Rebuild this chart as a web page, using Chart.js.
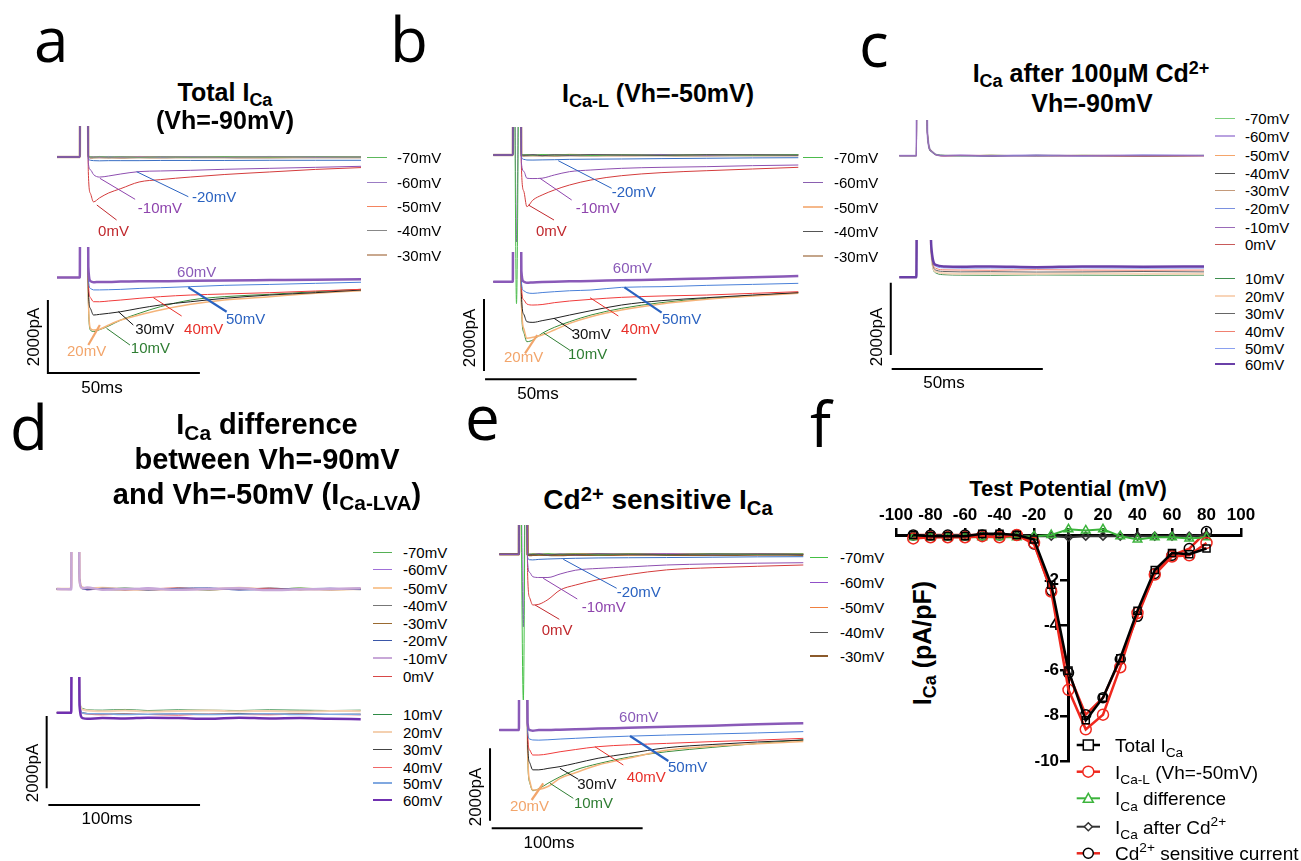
<!DOCTYPE html>
<html>
<head>
<meta charset="utf-8">
<script src="https://cdn.jsdelivr.net/npm/chart.js@4.4.0/dist/chart.umd.min.js"></script>
<style>
body{margin:0;background:#fff;width:1301px;height:861px;position:relative;overflow:hidden;font-family:"Liberation Sans",Arial,sans-serif;color:#000}
canvas{position:absolute}
.t{position:absolute;white-space:nowrap;line-height:1}
sub{font-size:.72em;vertical-align:-.28em;line-height:0}
sup{font-size:.72em;vertical-align:.42em;line-height:0}
</style>
</head>
<body>
<script>
// ---- panel a : total ICa, Vh=-90mV (time in ms, current in pA) ----
const aT = [0, 7.5, 7.7, 9.9, 10.3, 11, 12, 14, 17, 21, 27, 34, 44, 55, 70, 85, 100];
const aTopV = ['-70mV', '-60mV', '-50mV', '-40mV', '-30mV', '-20mV', '-10mV', '0mV'];
const aTopI = [
  [0, 0, 6000, 6000, 60, 10, -10, 15, -5, 10, -15, 5, -10, 10, -5, 10, 0],
  [0, 0, 6000, 6000, 40, 0, 10, -10, 15, -10, 5, -15, 10, -5, 15, -10, 5],
  [0, 0, 6000, 6000, 50, -5, 5, -15, 0, -10, 15, 0, -15, 5, 0, -10, 10],
  [0, 0, 6000, 6000, 30, -10, -5, 5, -20, 5, -5, 10, 0, -10, 10, 5, -5],
  [0, 0, 6000, 6000, 20, -20, -15, -10, -15, -20, -10, -15, -5, -10, -15, -5, -10],
  [0, 0, 6000, 6000, -40, -90, -100, -105, -100, -100, -100, -95, -95, -95, -90, -90, -90],
  [0, 0, 6000, 6000, -150, -350, -480, -550, -520, -465, -400, -383, -365, -337, -310, -283, -255],
  [0, 0, 6000, 6000, -400, -1000, -1230, -1120, -985, -866, -685, -620, -548, -480, -410, -340, -290]
];
const aBotV = ['10mV', '20mV', '30mV', '40mV', '50mV', '60mV'];
const aBotI = [
  [0, 0, 6000, 6000, -600, -1440, -1480, -1430, -1330, -1165, -982, -800, -617, -525, -461, -389, -324],
  [0, 0, 6000, 6000, -500, -1393, -1439, -1420, -1302, -1165, -1028, -890, -735, -617, -525, -434, -361],
  [0, 0, 6000, 6000, -300, -850, -1028, -1010, -982, -937, -845, -754, -663, -571, -480, -416, -343],
  [0, 0, 6000, 6000, -100, -550, -663, -665, -644, -617, -571, -525, -480, -452, -416, -370, -324],
  [0, 0, 6000, 6000, 0, -300, -340, -340, -335, -325, -300, -280, -250, -215, -190, -160, -130],
  [0, 0, 6000, 6000, 300, -100, -130, -120, -120, -110, -100, -100, -90, -80, -70, -60, -50]
];
const aBar = [[-3, -617], [-3, -2617], [47, -2617]];

// ---- panel b : ICa-L, Vh=-50mV ----
const bT = [0, 6.4, 6.6, 7.6, 8.8, 9.2, 10, 11, 13, 16, 20, 25, 32, 42, 55, 70, 85, 100];
const bTopI = [
  [0, 0, 6000, -4100, 6000, 40, 0, 10, -10, 15, -5, 10, -15, 5, -10, 10, -5, 10],
  [0, 0, 6000, -2400, 6000, 30, 10, -10, 15, -10, 5, -15, 10, -5, 15, -10, 5, 0],
  [0, 0, 6000, 6000, 6000, 20, -5, 5, -15, 0, -10, 15, 0, -15, 5, 0, -10, 10],
  [0, 0, 6000, 6000, 6000, 10, -10, -5, 5, -20, 5, -5, 10, 0, -10, 10, 5, -5],
  [0, 0, 6000, 6000, 6000, 0, -20, -15, -10, -15, -20, -10, -15, -5, -10, -15, -5, -10],
  [0, 0, 6000, 6000, 6000, -50, -120, -138, -140, -135, -130, -120, -115, -110, -100, -90, -80, -75],
  [0, 0, 6000, 6000, 6000, -200, -450, -640, -650, -640, -552, -460, -414, -368, -340, -322, -294, -276],
  [0, 0, 6000, 6000, 6000, -300, -1000, -1426, -1242, -1104, -966, -828, -690, -571, -488, -433, -386, -340]
];
const bBotI = [
  [0, 0, 6000, 6000, 6000, -600, -1400, -1656, -1609, -1425, -1260, -1104, -920, -736, -579, -460, -386, -303],
  [0, 0, 6000, 6000, 6000, -500, -1300, -1563, -1536, -1471, -1333, -1149, -966, -782, -616, -487, -395, -322],
  [0, 0, 6000, 6000, 6000, -300, -900, -1104, -1122, -1076, -1012, -920, -800, -644, -524, -441, -368, -303],
  [0, 0, 6000, 6000, 6000, -100, -500, -616, -644, -630, -579, -533, -487, -432, -395, -368, -322, -276],
  [0, 0, 6000, 6000, 6000, 0, -250, -303, -322, -300, -276, -250, -230, -156, -138, -101, -74, -45],
  [0, 0, 6000, 6000, 6000, 300, 0, -30, -20, -10, 0, 10, 20, 40, 60, 90, 120, 157]
];
const bBar = [[-3.05, -477], [-3.05, -2465], [-3.05, null], [-2.7, -2694], [47, -2694]];

// ---- panel c : ICa after 100uM Cd2+ ----
const cT = [0, 5.6, 5.9, 8.6, 9.2, 10.5, 12, 15, 20, 30, 45, 60, 80, 100];
const cTopI = [
  [0, 0, 6000, 6000, 700, 150, 40, 10, -10, 15, -10, 10, -5, 10],
  [0, 0, 6000, 6000, 650, 130, 30, -5, 10, -10, 15, -5, 10, 0],
  [0, 0, 6000, 6000, 600, 120, 20, 0, -15, 5, 0, -10, 5, -5],
  [0, 0, 6000, 6000, 620, 110, 25, 10, 5, -10, 10, 5, -10, 5],
  [0, 0, 6000, 6000, 680, 140, 35, -10, 0, 10, -5, 15, 0, -10],
  [0, 0, 6000, 6000, 640, 125, 30, 5, -5, 0, 10, -10, 15, 5],
  [0, 0, 6000, 6000, 660, 135, 25, 0, 10, -5, -10, 5, 0, 10],
  [0, 0, 6000, 6000, 670, 140, 30, -5, 5, 10, 0, -5, -10, 0]
];
const cBotI = [
  [0, 0, 6000, 6000, 6000, 600, 120, 70, 60, 55, 65, 60, 55, 60],
  [0, 0, 6000, 6000, 6000, 650, 160, 110, 100, 105, 95, 110, 100, 100],
  [0, 0, 6000, 6000, 6000, 700, 200, 160, 150, 155, 145, 150, 160, 150],
  [0, 0, 6000, 6000, 6000, 750, 250, 205, 200, 195, 210, 200, 195, 200],
  [0, 0, 6000, 6000, 6000, 800, 300, 260, 250, 255, 250, 260, 250, 255],
  [0, 0, 6000, 6000, 6000, 850, 340, 300, 290, 300, 280, 300, 290, 300]
];
const cBar = [[-2.8, -150], [-2.8, -2145], [-2.8, null], [-2.5, -2531], [47.1, -2531]];

// ---- panel d : difference (ICa-LVA) ----
const dT = [0, 9.6, 10.0, 14.2, 15.0, 17, 20, 30, 45, 60, 80, 100, 120, 140, 160, 180, 200];
const dTopI = [
  [0, 0, 6000, 6000, 300, 40, 20, -20, 30, -10, 20, -30, 10, -20, 30, -10, 0],
  [0, -20, 6000, 6000, 250, 20, -30, 10, -20, 30, -10, 20, -20, 10, -10, 20, -10],
  [0, 10, 6000, 6000, 280, 30, 10, 30, -10, -20, 10, -10, 30, -20, 0, -10, 10],
  [0, -10, 6000, 6000, 260, 10, -20, 0, 20, 10, -30, 10, -10, 30, -20, 0, -20],
  [0, 20, 6000, 6000, 270, 50, 30, -10, -30, 20, 0, -20, 20, 0, 20, -30, 10],
  [0, 0, 6000, 6000, 290, 0, -10, 20, 10, -30, 20, 30, -30, -10, 10, 20, -10],
  [0, -10, 6000, 6000, 240, 20, 40, -20, 0, 10, -20, 0, 20, -30, -10, 0, 20],
  [0, 10, 6000, 6000, 310, 40, 0, 10, -20, 0, 30, -20, 0, 20, -20, 10, 0]
];
const dBotI = [
  [0, 0, 6000, 6000, 400, 120, 80, 70, 90, 60, 80, 70, 60, 80, 70, 60, 70],
  [0, 0, 6000, 6000, 350, 90, 60, 40, 60, 30, 50, 60, 40, 50, 30, 50, 40],
  [0, 0, 6000, 6000, 300, 0, -20, -40, -30, -50, -30, -40, -20, -40, -30, -50, -40],
  [0, 0, 6000, 6000, 280, -20, -40, -60, -40, -50, -70, -40, -50, -60, -40, -50, -60],
  [0, 0, 6000, 6000, 260, -10, -30, -30, -50, -40, -30, -50, -40, -30, -50, -40, -50],
  [0, 0, 6000, 6000, 200, -150, -170, -150, -160, -140, -150, -170, -140, -160, -150, -170, -180]
];
const dBar = [[-6.6, -91], [-6.6, -2094], [-6.6, null], [-5.5, -2557], [94.3, -2557]];

// ---- panel e : Cd2+ sensitive ICa ----
const eT = [0, 12.9, 13.2, 15.8, 17.8, 18.6, 20, 22, 26, 32, 40, 50, 65, 85, 110, 140, 170, 200];
const eTopI = [
  [0, 0, 6000, -4020, 6000, 30, 0, 10, -10, 15, -5, 10, -15, 5, -10, 10, -5, 10],
  [0, 0, 6000, -2000, 6000, 20, 10, -10, 15, -10, 5, -15, 10, -5, 15, -10, 5, 0],
  [0, 0, 6000, 6000, 6000, 10, -5, 5, -15, 0, -10, 15, 0, -15, 5, 0, -10, 10],
  [0, 0, 6000, 6000, 6000, 0, -10, -5, 5, -20, 5, -5, 10, 0, -10, 10, 5, -5],
  [0, 0, 6000, 6000, 6000, 0, -20, -15, -10, -15, -20, -10, -15, -5, -10, -15, -5, -10],
  [0, 0, 6000, 6000, 6000, -80, -150, -155, -140, -130, -120, -110, -100, -95, -90, -80, -70, -66],
  [0, 0, 6000, 6000, 6000, -200, -500, -618, -640, -640, -544, -440, -390, -350, -295, -265, -245, -232],
  [0, 0, 6000, 6000, 6000, -500, -1200, -1399, -1380, -1250, -986, -850, -700, -560, -430, -370, -330, -295]
];
const eBotI = [
  [0, 0, 6000, 6000, 6000, -600, -1450, -1675, -1620, -1471, -1290, -1104, -930, -750, -600, -480, -370, -275],
  [0, 0, 6000, 6000, 6000, -500, -1400, -1656, -1640, -1560, -1333, -1180, -966, -780, -560, -450, -380, -320],
  [0, 0, 6000, 6000, 6000, -300, -900, -1100, -1100, -1060, -1010, -920, -780, -650, -490, -400, -330, -275],
  [0, 0, 6000, 6000, 6000, -100, -550, -690, -690, -660, -600, -540, -460, -410, -370, -320, -280, -230],
  [0, 0, 6000, 6000, 6000, 0, -250, -275, -280, -270, -250, -230, -200, -170, -140, -110, -80, -45],
  [0, 0, 6000, 6000, 6000, 200, 0, -20, 0, 0, 10, 20, 40, 60, 90, 120, 160, 185]
];
const eBar = [[-6.1, -505], [-6.1, -2503], [-6.1, null], [-5, -2713], [94.3, -2713]];

// trace labels: text, colour, leader x1,y1,x2,y2, text x,y (ms, pA)
const aTopNotes = [
  ['0mV', '#c0282d', 13.1, -1315, 19.6, -1726, 13.5, -2055],
  ['-10mV', '#8e44ad', 14.1, -584, 25.7, -1159, 26.6, -1425],
  ['-20mV', '#2a62c0', 26.2, -403, 43.2, -1088, 44.4, -1123]
];
const aBotNotes = [
  ['60mV', '#8a5ab8', null, null, null, null, 39.5, 123],
  ['50mV', '#2a62c0', 43.2, -269, 55.8, -937, 55.6, -1165],
  ['40mV', '#e8302a', 31.7, -553, 41.0, -1055, 41.8, -1439],
  ['30mV', '#111111', 20.2, -937, 25.1, -1302, 25.7, -1439],
  ['10mV', '#2e7d32', 16.3, -1392, 24.0, -1850, 24.3, -1959],
  ['20mV', '#f2a56b', 14.1, -1302, 10.3, -1850, 3.3, -2041]
];
const bTopNotes = [
  ['0mV', '#c0282d', 11.5, -1380, 19.9, -1794, 14.0, -2125],
  ['-10mV', '#8e44ad', 15.3, -643, 25.7, -1242, 27.0, -1490],
  ['-20mV', '#2a62c0', 21.3, -157, 38.8, -919, 38.8, -1049]
];
const bBotNotes = [
  ['60mV', '#8a5ab8', null, null, null, null, 39.2, 351],
  ['50mV', '#2a62c0', 43.0, -155, 55.2, -856, 55.3, -1057],
  ['40mV', '#e8302a', 31.7, -442, 41.0, -947, 41.9, -1333],
  ['30mV', '#111111', 19.9, -1010, 26.2, -1361, 25.7, -1471],
  ['10mV', '#2e7d32', 16.4, -1408, 25.1, -1891, 24.5, -2029],
  ['20mV', '#f2a56b', 14.4, -1471, 10.4, -1976, 3.5, -2112]
];
const eTopNotes = [
  ['0mV', '#c0282d', 23.5, -1399, 39.5, -1794, 27.9, -2117],
  ['-10mV', '#8e44ad', 28.9, -662, 51.3, -1234, 54.2, -1490],
  ['-20mV', '#2a62c0', 42.1, -138, 77.2, -938, 77.2, -1060]
];
const eBotNotes = [
  ['60mV', '#8a5ab8', null, null, null, null, 78.8, 323],
  ['50mV', '#2a62c0', 86.0, -166, 111.2, -856, 111.0, -1057],
  ['40mV', '#e8302a', 62.9, -461, 81.6, -966, 83.8, -1333],
  ['30mV', '#111111', 39.9, -1057, 52.0, -1361, 51.3, -1518],
  ['10mV', '#2e7d32', 33.4, -1472, 48.7, -1886, 49.1, -2042],
  ['20mV', '#f2a56b', 28.9, -1472, 21.3, -1932, 7.0, -2116]
];

// ---- panel f : I-V relation ----
const testPotential = [-90, -80, -70, -60, -50, -40, -30, -20, -10, 0, 10, 20, 30, 40, 50, 60, 70, 80];
const totalICa = [0, -0.05, -0.05, -0.05, 0.05, 0.05, 0, -0.2, -2.2, -6.0, -8.2, -7.2, -5.45, -3.35, -1.55, -0.8, -0.85, -0.6];
const icaL = [-0.15, -0.1, -0.1, -0.1, -0.05, -0.1, 0, -0.35, -2.5, -6.85, -8.6, -7.95, -5.85, -3.45, -1.75, -0.95, -0.9, -0.35];
const icaDiff = [-0.1, -0.1, -0.1, -0.1, -0.1, -0.1, -0.1, -0.05, 0, 0.25, 0.2, 0.25, -0.05, -0.2, -0.1, -0.1, -0.15, -0.1];
const icaAfterCd = [0, 0, 0, 0, 0, 0, 0, -0.05, -0.05, -0.1, -0.05, -0.05, -0.05, -0.05, -0.05, -0.05, -0.05, 0];
const cdSensitive = [0, 0, 0, 0, 0, 0, 0, -0.4, -2.45, -6.1, -7.95, -7.2, -5.5, -3.6, -1.7, -0.9, -0.6, 0.15];
const ivNames = [
  [['Total I', ''], ['Ca', 'sub']],
  [['I', ''], ['Ca-L', 'sub'], [' (Vh=-50mV)', '']],
  [['I', ''], ['Ca', 'sub'], [' difference', '']],
  [['I', ''], ['Ca', 'sub'], [' after Cd', ''], ['2+', 'sup']],
  [['Cd', ''], ['2+', 'sup'], [' sensitive current', '']]
];

// ---------------- styles ----------------
const FONT = '"Liberation Sans", Arial, sans-serif';
const topColA = ['#5cb85c', '#9b7cc4', '#f4845f', '#888888', '#c9a88e', '#3a6fc4', '#8e4fb0', '#d43c3c'];
const topColB = ['#4cbb4c', '#8a5fb0', '#f5b88a', '#555555', '#c4a58a', '#3a6fc4', '#8e4fb0', '#d43c3c'];
const topColC = ['#7ccf7c', '#b9a2e0', '#f5a56a', '#555555', '#c49a7a', '#7a90e0', '#9a6ab8', '#c85a5a'];
const topColD = ['#55b055', '#a070d8', '#f8c898', '#777777', '#9a6a30', '#3a56a8', '#c8a8d8', '#d84848'];
const topColE = ['#44c044', '#9050c8', '#f08040', '#555555', '#8b5a2b', '#3a6fc4', '#8e4fb0', '#d43c3c'];
const botCol = ['#3a8c3a', '#f5b47a', '#222222', '#f03c3c', '#4a80d8', '#8a5ab8'];
const botColC = ['#3f8f4f', '#f8d4b8', '#666666', '#f08070', '#8aa0f0', '#6a40a8'];
const botColD = ['#2e8b46', '#f4d0b0', '#444444', '#f06868', '#80a8e0', '#7030b0'];
const topW = [1, 1, 1, 1, 2.5, 1, 1, 1];
const topWB = [1, 1, 1.5, 1, 2.5, 1, 1, 1];
const topWC = [1, 2, 1, 1, 1, 1, 1, 1];
const topWD = [1, 1, 2.5, 1, 1, 1, 2.5, 1];
const botW = [1, 1.5, 1, 1, 1, 2.5];
const botWC = [1, 2, 1, 1, 1, 2.5];
const botWD = [1, 2, 1, 1, 1.5, 2.5];
// stacking: lower number is drawn on top
const topZ = [5, 6, 7, 4, 8, 2, 1, 3];
const botZ = [6, 5, 4, 3, 2, 1];

Chart.defaults.font.family = FONT;
Chart.defaults.color = '#000';

function canvasAt(l, t, w, h) {
  const c = document.createElement('canvas');
  c.width = w; c.height = h;
  c.style.left = l + 'px'; c.style.top = t + 'px';
  c.style.width = w + 'px'; c.style.height = h + 'px';
  document.body.appendChild(c);
  return c;
}

// html text, y = baseline (or centre when rotated)
function text(html, x, y, size, o) {
  o = o || {};
  const d = document.createElement('div');
  d.className = 't';
  d.innerHTML = html;
  d.style.fontSize = size + 'px';
  if (o.bold) d.style.fontWeight = 'bold';
  if (o.family) d.style.fontFamily = o.family;
  if (o.color) d.style.color = o.color;
  d.style.left = x + 'px';
  if (o.rotate) {
    d.style.top = y + 'px';
    d.style.transform = 'translate(-50%,-50%) rotate(-90deg)';
  } else {
    d.style.top = (y - (o.k || 0.8465) * size) + 'px';
    if (!o.left) d.style.transform = 'translateX(-50%)';
  }
  document.body.appendChild(d);
}

function notesPlugin(notes) {
  return {
    id: 'notes',
    afterDatasetsDraw(chart) {
      const {ctx, scales: {x, y}} = chart;
      ctx.save();
      ctx.font = '15px ' + FONT;
      ctx.textBaseline = 'middle';
      notes.forEach(n => {
        ctx.strokeStyle = n[1];
        ctx.fillStyle = n[1];
        if (n[2] !== null) {
          ctx.lineWidth = (n[0] === '50mV' || n[0] === '20mV') ? 2.2 : 1;
          ctx.beginPath();
          ctx.moveTo(x.getPixelForValue(n[2]), y.getPixelForValue(n[3]));
          ctx.lineTo(x.getPixelForValue(n[4]), y.getPixelForValue(n[5]));
          ctx.stroke();
        }
        ctx.fillText(n[0], x.getPixelForValue(n[6]), y.getPixelForValue(n[7]));
      });
      ctx.restore();
    }
  };
}

// box = [left, top, w, h] on page; map = [px of t=0, px of I=0, px per ms, pA per px]
function traces(box, map, times, rows, colors, widths, z, notes, bar) {
  const cv = canvasAt(box[0], box[1], box[2], box[3]);
  const sets = rows.map((r, i) => ({
    data: times.map((t, j) => ({x: t, y: r[j]})),
    borderColor: colors[i], borderWidth: widths[i], order: z[i],
    pointRadius: 0, cubicInterpolationMode: 'monotone'
  }));
  if (bar) sets.push({
    data: bar.map(p => ({x: p[0], y: p[1]})), order: 0,
    borderColor: '#000', borderWidth: 2, pointRadius: 0, tension: 0, spanGaps: false
  });
  new Chart(cv, {
    type: 'line',
    data: {datasets: sets},
    options: {
      responsive: false, animation: false, events: [],
      layout: {padding: 0},
      elements: {line: {capBezierPoints: false}},
      scales: {
        x: {type: 'linear', display: false,
            min: (box[0] - map[0]) / map[2], max: (box[0] + box[2] - map[0]) / map[2]},
        y: {type: 'linear', display: false,
            max: (map[1] - box[1]) * map[3], min: (map[1] - box[1] - box[3]) * map[3]}
      },
      plugins: {legend: {display: false}, tooltip: {enabled: false}}
    },
    plugins: [notesPlugin(notes || [])]
  });
}

function legend(names, colors, widths, x1, x2, tx, rows) {
  names.forEach((n, i) => {
    const s = document.createElement('div');
    s.style.cssText = 'position:absolute;left:' + x1 + 'px;width:' + (x2 - x1) + 'px;top:' +
      (rows[i] - widths[i] / 2) + 'px;height:' + widths[i] + 'px;background:' + colors[i];
    document.body.appendChild(s);
    text(n, tx, rows[i] + 5.5, 15, {left: true});
  });
}

// ---------------- panels a-e ----------------
traces([40, 126, 330, 125], [57, 157, 3.04, 27.4], aT, aTopI, topColA, topW, topZ, aTopNotes);
traces([20, 247, 350, 150], [57, 277.5, 3.04, 27.4], aT, aBotI, botCol, botW, botZ, aBotNotes, aBar);
traces([480, 127, 330, 185], [493.3, 155, 3.05, 27.6], bT, bTopI, topColB, topWB, topZ, bTopNotes);
traces([470, 252, 340, 135], [493.3, 281.7, 3.05, 27.6], bT, bBotI, botCol, botW, botZ, bBotNotes, bBar);
traces([880, 120, 330, 60], [899.3, 155.7, 3.047, 27.6], cT, cTopI, topColC, topWC, topZ);
traces([880, 240, 330, 140], [899.3, 277.3, 3.047, 27.6], cT, cBotI, botColC, botWC, botZ, null, cBar);
traces([40, 552, 330, 60], [56.7, 589, 1.52, 27.7], dT, dTopI, topColD, topWD, topZ);
traces([40, 677, 330, 140], [56.7, 712.7, 1.52, 27.7], dT, dBotI, botColD, botWD, botZ, null, dBar);
traces([480, 525, 330, 180], [499.3, 554.3, 1.52, 27.6], eT, eTopI, topColE, topW, topZ, eTopNotes);
traces([480, 700, 330, 140], [499.3, 730, 1.52, 27.6], eT, eBotI, botCol, botW, botZ, eBotNotes, eBar);

const legFive = aTopV.slice(0, 5);
legend(legFive, topColA, topW, 367, 387, 397, [157, 182, 206, 230, 255]);
legend(legFive, topColB, topWB, 803, 823, 834, [157, 182, 207, 231, 256]);
legend(legFive, topColE, topW, 810, 828, 840, [557, 582, 607, 632, 656]);
const allV = aTopV.concat(aBotV);
legend(allV, topColC.concat(botColC), topWC.concat(botWC), 1215, 1235, 1245,
  [118, 136, 155, 173, 190, 208, 227, 244, 278, 296, 313, 331, 348, 364]);
legend(allV, topColD.concat(botColD), topWD.concat(botWD), 373, 392, 403,
  [552, 569, 588, 605, 623, 640, 658, 676, 714, 732, 749, 767, 783, 800]);

// scale bar captions
[[33, 337], [469, 338], [876, 337], [32, 773], [475, 797]].forEach(p => text('2000pA', p[0], p[1], 17, {rotate: true}));
text('50ms', 102, 393, 17);
text('50ms', 538, 399, 17);
text('50ms', 944, 388, 17);
text('100ms', 107, 824, 17);
text('100ms', 549, 848, 17);

// panel letters
const OS = '"Open Sans", sans-serif';
[['a', 34, 62], ['b', 390, 62], ['c', 859, 67], ['d', 10, 450], ['e', 465, 440], ['f', 810, 447]]
  .forEach(l => text(l[0], l[1], l[2], 62, {family: OS, left: true, k: 0.888}));

// titles
text('Total I<sub>Ca</sub>', 225, 101, 25, {bold: true});
text('(Vh=-90mV)', 225, 129, 25, {bold: true});
text('I<sub>Ca-L</sub> (Vh=-50mV)', 658, 102, 25, {bold: true});
text('I<sub>Ca</sub> after 100μM Cd<sup>2+</sup>', 1091, 82, 25, {bold: true});
text('Vh=-90mV', 1092, 112, 25, {bold: true});
text('I<sub>Ca</sub> difference', 267, 435, 29, {bold: true});
text('between Vh=-90mV', 267, 470, 29, {bold: true});
text('and Vh=-50mV (I<sub>Ca-LVA</sub>)', 267, 505, 29, {bold: true});
text('Cd<sup>2+</sup> sensitive I<sub>Ca</sub>', 658, 510, 28, {bold: true});
text('Test Potential (mV)', 1068, 497, 22, {bold: true});
text('I<sub>Ca</sub> (pA/pF)', 922, 643, 25, {bold: true, rotate: true});

// ---------------- panel f ----------------
function drawMark(ctx, style, x, y, r) {
  ctx.beginPath();
  if (style === 'rect') ctx.rect(x - r, y - r, 2 * r, 2 * r);
  else if (style === 'triangle') { ctx.moveTo(x, y - r); ctx.lineTo(x + r, y + r * 0.8); ctx.lineTo(x - r, y + r * 0.8); ctx.closePath(); }
  else if (style === 'rectRot') { ctx.moveTo(x, y - r); ctx.lineTo(x + r, y); ctx.lineTo(x, y + r); ctx.lineTo(x - r, y); ctx.closePath(); }
  else ctx.arc(x, y, r, 0, Math.PI * 2);
  ctx.fill();
  ctx.stroke();
}

function richText(ctx, parts, x, y, size) {
  parts.forEach(p => {
    const fs = p[1] ? size * 0.72 : size;
    ctx.font = fs + 'px ' + FONT;
    const dy = p[1] === 'sub' ? size * 0.28 : (p[1] === 'sup' ? -size * 0.42 : 0);
    ctx.fillText(p[0], x, y + dy);
    x += ctx.measureText(p[0]).width;
  });
}

const ivLegend = {
  id: 'ivLegend',
  afterDraw(chart) {
    const ctx = chart.ctx;
    const rows = [745, 771.7, 798.3, 826.7, 853.3];
    ctx.save();
    chart.data.datasets.forEach((ds, i) => {
      const y = rows[i] - 460;
      ctx.strokeStyle = ds.borderColor;
      ctx.lineWidth = ds.borderWidth;
      ctx.beginPath(); ctx.moveTo(216.7, y); ctx.lineTo(240, y); ctx.stroke();
      ctx.strokeStyle = ds.pointBorderColor;
      ctx.lineWidth = ds.pointBorderWidth;
      ctx.fillStyle = '#fff';
      drawMark(ctx, ds.pointStyle, 228.3, y, ds.pointRadius);
      ctx.fillStyle = '#000';
      ctx.textBaseline = 'alphabetic';
      richText(ctx, ivNames[i], 255, y + 7, 19);
    });
    ctx.restore();
  }
};

function ivSet(vals, line, mark, style, r, bw) {
  return {
    data: testPotential.map((v, i) => ({x: v, y: vals[i]})),
    borderColor: line, borderWidth: bw, pointStyle: style, pointRadius: r,
    pointBorderColor: mark, pointBackgroundColor: 'rgba(255,255,255,0)', pointBorderWidth: 1.5,
    tension: 0, clip: false
  };
}

new Chart(canvasAt(860, 460, 441, 401), {
  type: 'line',
  data: {datasets: [
    ivSet(totalICa, '#000000', '#000000', 'rect', 5, 2.5),
    ivSet(icaL, '#f0281e', '#f0281e', 'circle', 5.5, 2.5),
    ivSet(icaDiff, '#3cb43c', '#3cb43c', 'triangle', 5, 2),
    ivSet(icaAfterCd, '#333333', '#333333', 'rectRot', 4, 2),
    ivSet(cdSensitive, '#e8281e', '#000000', 'circle', 5, 2.5)
  ]},
  options: {
    responsive: false, animation: false, events: [],
    layout: {padding: {left: 36, right: 60, top: 35, bottom: 100}},
    scales: {
      x: {type: 'linear', position: 'top', min: -100, max: 100,
          afterFit: s => { s.height = 40; },
          ticks: {stepSize: 20, color: '#000', font: {size: 17, weight: 'bold'}, padding: 2, maxRotation: 0, autoSkip: false},
          grid: {drawOnChartArea: false, drawTicks: true, tickLength: 7, color: '#000', lineWidth: 2.5},
          border: {color: '#000', width: 3}},
      y: {type: 'linear', position: {x: 0}, min: -10, max: 0,
          ticks: {stepSize: 2, color: '#000', font: {size: 17, weight: 'bold'},
                  callback: v => v === 0 ? '' : v + '  '},
          grid: {drawOnChartArea: false, drawTicks: true, tickLength: 7, color: '#000', lineWidth: 2.5},
          border: {color: '#000', width: 3}}
    },
    plugins: {legend: {display: false}, tooltip: {enabled: false}}
  },
  plugins: [ivLegend]
});
</script>
</body>
</html>
